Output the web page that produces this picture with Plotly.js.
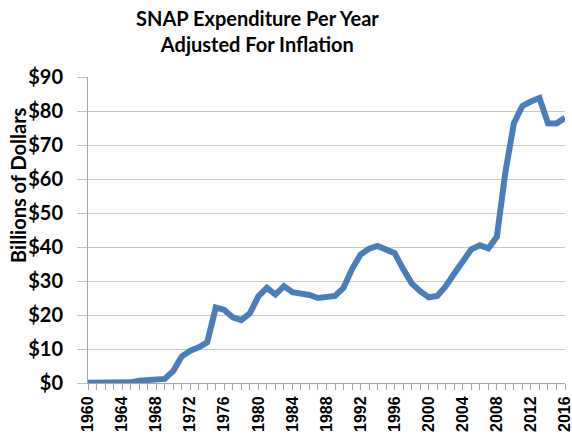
<!DOCTYPE html>
<html>
<head>
<meta charset="utf-8">
<script src="https://cdn.plot.ly/plotly-3.0.1.min.js"></script>
<style>html,body{margin:0;padding:0;background:#fff;}#chart{width:572px;height:445px;}</style>
</head>
<body>
<div id="chart"></div>
<script>
const years = [1960,1961,1962,1963,1964,1965,1966,1967,1968,1969,1970,1971,1972,1973,1974,1975,1976,1977,1978,1979,1980,1981,1982,1983,1984,1985,1986,1987,1988,1989,1990,1991,1992,1993,1994,1995,1996,1997,1998,1999,2000,2001,2002,2003,2004,2005,2006,2007,2008,2009,2010,2011,2012,2013,2014,2015,2016];
const spending = [0.1,0.1,0.1,0.1,0.1,0.2,0.7,0.9,1.3,1.2,3.5,7.8,9.5,10.5,12.0,22.2,21.5,19.3,18.5,20.5,25.5,28.0,26.0,28.5,26.7,26.4,25.9,25.0,25.4,25.6,28.0,33.5,37.8,39.5,40.3,39.3,38.2,33.5,29.3,27.0,25.2,25.6,28.5,32.2,35.8,39.3,40.5,39.6,43.0,62.0,76.4,81.5,82.8,83.8,76.4,76.3,78.0];
const yTicks = [0,10,20,30,40,50,60,70,80,90];
const yTickText = ['$0','$10','$20','$30','$40','$50','$60','$70','$80','$90'];
const xTicks = [1960,1964,1968,1972,1976,1980,1984,1988,1992,1996,2000,2004,2008,2012,2016];
const titleText = 'SNAP Expenditure Per Year<br>Adjusted For Inflation';
const yTitleText = 'Billions of Dollars';

const trace = {
  x: years, y: spending, type: 'scatter', mode: 'lines',
  line: {color: '#4a7ebb', width: 6, shape: 'linear'},
  hoverinfo: 'x+y'
};
const layout = {
  width: 572, height: 445,
  margin: {l: 88, r: 7, t: 77, b: 62},
  paper_bgcolor: '#fff', plot_bgcolor: '#fff',
  showlegend: false,
  xaxis: {
    range: [1960, 2016], tickmode: 'array', tickvals: xTicks, ticktext: xTicks.map(String),
    tickangle: -90, ticks: 'outside', ticklen: 6, tickcolor: '#a6a6a6', tickwidth: 1,
    ticklabeloverflow: 'allow',
    showline: true, linecolor: '#a6a6a6', linewidth: 1, showgrid: false, zeroline: false,
    minor: {dtick: 1, tick0: 1960, ticks: 'outside', ticklen: 6, tickcolor: '#a6a6a6', tickwidth: 1, showgrid: false},
    tickfont: {family: '"Liberation Sans", Arial, sans-serif', size: 16, color: '#000', weight: 'bold'}
  },
  yaxis: {
    range: [0, 90], tickmode: 'array', tickvals: yTicks, ticktext: yTickText,
    ticks: 'outside', ticklen: 10, tickcolor: '#bfbfbf', tickwidth: 1,
    showline: true, linecolor: '#a6a6a6', linewidth: 1,
    showgrid: true, gridcolor: '#c8c8c8', gridwidth: 1, zeroline: false,
    ticklabelstandoff: 10,
    tickfont: {family: 'Lato, "Open Sans", sans-serif', size: 20, color: '#000', weight: 'bold'}
  },
  annotations: [{
    text: '<b>' + titleText + '</b>',
    xref: 'paper', yref: 'paper', x: (257 - 88) / 477, y: (383 - 31) / 306,
    xanchor: 'center', yanchor: 'middle', align: 'center', showarrow: false,
    font: {family: 'Lato, "Open Sans", sans-serif', size: 20, color: '#000'}
  }, {
    text: '<b>' + yTitleText + '</b>', textangle: -90,
    xref: 'paper', yref: 'paper', x: -0.147, y: 0.647, xanchor: 'center', yanchor: 'middle',
    showarrow: false, font: {family: 'Lato, "Open Sans", sans-serif', size: 20, color: '#000'}
  }]
};
Plotly.newPlot('chart', [trace], layout, {displayModeBar: false, staticPlot: true});
</script>
</body>
</html>
